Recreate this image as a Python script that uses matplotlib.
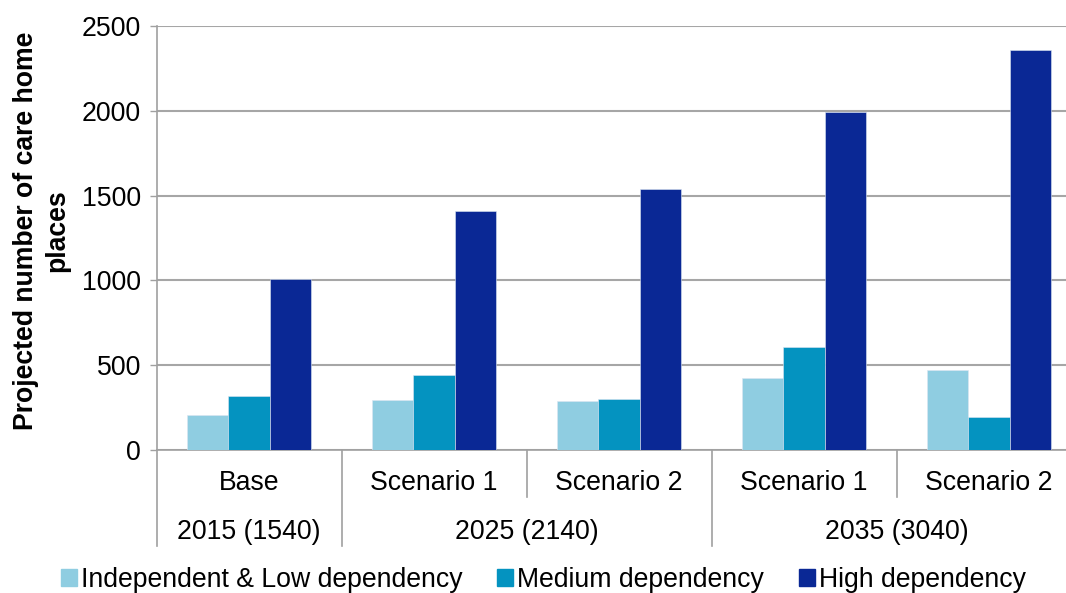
import matplotlib
matplotlib.use("Agg")
import matplotlib.pyplot as plt
from matplotlib.lines import Line2D
import numpy as np

plt.rcParams['font.family'] = ['Liberation Sans', 'DejaVu Sans']

scenarios = ["Base", "Scenario 1", "Scenario 2", "Scenario 1", "Scenario 2"]
groups = ["2015 (1540)", "2025 (2140)", "2035 (3040)"]
group_spans = [(0, 0), (1, 2), (3, 4)]
series_names = ["Independent & Low dependency", "Medium dependency", "High dependency"]
independent_low = [205, 295, 290, 425, 471]
medium = [317, 441, 298, 606, 192]
high = [1009, 1411, 1541, 1990, 2359]
colors = ["#8FCDE1", "#0493C0", "#0A2895"]
yticks = [0, 500, 1000, 1500, 2000, 2500]

FS = 19.2
W, H = 1066, 593
fig = plt.figure(figsize=(W / 100, H / 100), dpi=100)
left_px, right_px, top_px, bot_px = 156.5, 1081.5, 26, 450
ax = fig.add_axes([left_px / W, 1 - bot_px / H, (right_px - left_px) / W, (bot_px - top_px) / H])

x = np.arange(len(scenarios))
bw = 0.222
for i, (vals, c, name) in enumerate(zip([independent_low, medium, high], colors, series_names)):
    ax.bar(x + (i - 1) * bw, vals, width=bw, color=c, label=name,
           edgecolor="#dce6f2", linewidth=0.4, zorder=3)

ax.set_xlim(-0.5, len(scenarios) - 0.5)
ax.set_ylim(0, 2500)
ax.set_yticks(yticks)
ax.set_yticklabels([str(t) for t in yticks])
ax.tick_params(axis='y', labelsize=FS, length=5, width=1, color="#a0a0a0", pad=6, labelcolor="#000000")
ax.set_xticks([])
ax.grid(axis='y', color="#a6a6a6", linewidth=1.5, zorder=0)
for s in ["top", "right"]:
    ax.spines[s].set_visible(False)
ax.spines["left"].set_color("#a0a0a0")
ax.spines["left"].set_linewidth(1.2)
ax.spines["bottom"].set_color("#a0a0a0")
ax.spines["bottom"].set_linewidth(1.2)

axh = bot_px - top_px
axw = right_px - left_px
def yfrac(py):
    return (bot_px - py) / axh

trans = ax.get_xaxis_transform()
for xi, lab in zip(x, scenarios):
    ax.text(xi, yfrac(483), lab, transform=trans, ha='center', va='center', fontsize=FS)
for (a, b), lab in zip(group_spans, groups):
    ax.text((a + b) / 2, yfrac(532), lab, transform=trans, ha='center', va='center', fontsize=FS)

# separators
boundaries = [-0.5] + [b + 0.5 for (a, b) in group_spans]
inner = [a + 0.5 for (a, b) in group_spans if b > a]
for bx in boundaries:
    ax.add_line(Line2D([bx, bx], [0, yfrac(546)], transform=trans, color="#a0a0a0",
                       linewidth=1.2, clip_on=False))
for bx in inner:
    ax.add_line(Line2D([bx, bx], [0, yfrac(497)], transform=trans, color="#a0a0a0",
                       linewidth=1.2, clip_on=False))

ax.set_ylabel("Projected number of care home\nplaces", fontsize=FS, fontweight='bold',
              linespacing=1.25)
ax.yaxis.set_label_coords((70 - left_px) / axw, yfrac(231))

handles = [plt.Rectangle((0, 0), 1, 1, color=c) for c in colors]
fig.legend(handles, series_names, loc='center', bbox_to_anchor=(543.5 / W, 1 - 580 / H), ncol=3,
           frameon=False, fontsize=FS, handlelength=0.6, handleheight=0.6, handletextpad=0.15,
           columnspacing=1.3, borderaxespad=0, borderpad=0)

fig.savefig("out.png", dpi=100)
